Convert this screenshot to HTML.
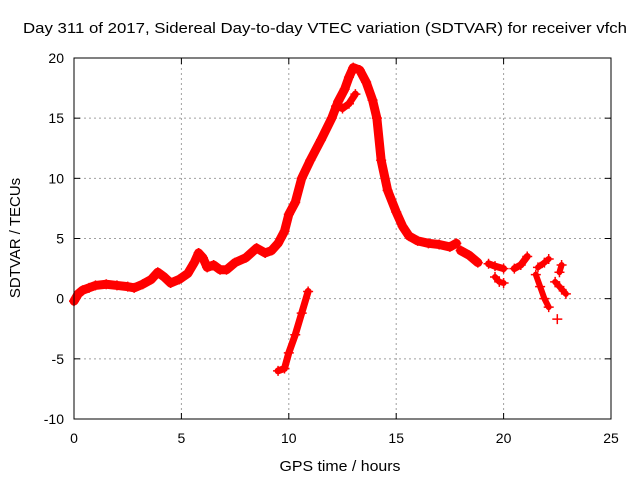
<!DOCTYPE html>
<html><head><meta charset="utf-8"><style>
body{margin:0;background:#fff}
svg{display:block;font-family:"Liberation Sans",sans-serif}
</style></head><body>
<svg id="chart" width="640" height="480">
<text x="325" y="33" font-size="15" text-anchor="middle" textLength="604" lengthAdjust="spacingAndGlyphs">Day 311 of 2017, Sidereal Day-to-day VTEC variation (SDTVAR) for receiver vfch</text>
<text x="340" y="471" font-size="15" text-anchor="middle" textLength="121" lengthAdjust="spacingAndGlyphs">GPS time / hours</text>
<text transform="translate(20,238) rotate(-90)" font-size="15" text-anchor="middle">SDTVAR / TECUs</text>
<g id="grid"></g><g id="ticks"></g><g id="marks"></g>
<rect x="74" y="58" width="537" height="361" fill="none" stroke="#000"/>
</svg>
<script>
const xTicks=[0,5,10,15,20,25];
const yTicks=[-10,-5,0,5,10,15,20];
const mainT=[0,0.2,0.4,0.7,1,1.5,2,2.5,2.8,3.2,3.6,3.9,4.2,4.5,4.9,5.3,5.6,5.8,6.0,6.2,6.5,6.8,7.1,7.5,8,8.5,8.9,9.2,9.5,9.8,10,10.3,10.6,11,11.5,12,12.3,12.6,12.8,13,13.3,13.6,13.9,14.1,14.3,14.6,15,15.3,15.6,16,16.5,17,17.5,17.8];
const mainV=[-0.2,0.4,0.7,0.9,1.1,1.2,1.1,1.0,0.9,1.2,1.6,2.2,1.8,1.3,1.6,2.1,3.0,3.8,3.4,2.6,2.8,2.4,2.4,3.0,3.4,4.2,3.8,4.0,4.6,5.6,7.0,8.0,10.0,11.5,13.2,15.0,16.4,17.4,18.4,19.2,19.0,18.0,16.5,15.0,11.5,9.0,7.2,6.0,5.2,4.8,4.6,4.5,4.3,4.6];
const lowT=[9.5,9.8,10.0,10.3,10.6,10.9];
const lowV=[-6.0,-5.8,-4.5,-3.0,-1.2,0.6];
const branchT=[12.2,12.5,12.8,13.1];
const branchV=[16.0,15.8,16.2,17.0];
const r1T=[18.0,18.4,18.8];
const r1V=[4.0,3.6,3.0];
const r2T=[19.3,19.6,20.0];
const r2V=[2.9,2.7,2.5];
const r3T=[19.6,19.8,20.0];
const r3V=[1.8,1.4,1.3];
const r4T=[20.5,20.8,21.1];
const r4V=[2.5,2.8,3.5];
const r5T=[21.5,21.7,21.9,22.1];
const r5V=[2.0,1.0,0.0,-0.7];
const r6T=[21.6,21.9,22.1];
const r6V=[2.6,3.0,3.3];
const r7T=[22.6,22.7];
const r7V=[2.2,2.8];
const r8T=[22.4,22.6,22.9];
const r8V=[1.4,1.0,0.4];
const r9T=[22.5];
const r9V=[-1.7];
const X=t=>74+t*537/25, Y=v=>58+(20-v)*361/30;
const NS="http://www.w3.org/2000/svg";
const mk=(tag,a,p)=>{const e=document.createElementNS(NS,tag);for(const k in a)e.setAttribute(k,a[k]);p.appendChild(e);return e;};
const grid=document.getElementById('grid'),ticks=document.getElementById('ticks'),marks=document.getElementById('marks');
xTicks.forEach(t=>{
 if(t>0&&t<25){const g=mk('line',{x1:X(t),x2:X(t),y1:58,y2:419,stroke:'#a0a0a0','stroke-dasharray':'2,3'},grid);
 
 }
 mk('line',{x1:X(t),x2:X(t),y1:419,y2:413,stroke:'#000'},ticks);
 mk('line',{x1:X(t),x2:X(t),y1:58,y2:64,stroke:'#000'},ticks);
 const l=mk('text',{x:X(t),y:443,'font-size':14,'text-anchor':'middle'},ticks);l.textContent=t;
 
 
});
yTicks.forEach(v=>{
 if(v>-10&&v<20){const g=mk('line',{x1:74,x2:611,y1:Y(v),y2:Y(v),stroke:'#a0a0a0','stroke-dasharray':'2,3'},grid);
 
 }
 mk('line',{x1:74,x2:80,y1:Y(v),y2:Y(v),stroke:'#000'},ticks);
 mk('line',{x1:605,x2:611,y1:Y(v),y2:Y(v),stroke:'#000'},ticks);
 const l=mk('text',{x:64,y:Y(v)+5,'font-size':14,'text-anchor':'end'},ticks);l.textContent=v;
 
 
});
function seg(T,V,w){
 const g=mk('g',{},marks);
 
 
 if(T.length>1)mk('polyline',{points:T.map((t,i)=>X(t)+','+Y(V[i])).join(' '),fill:'none',stroke:'#f00','stroke-width':w,'stroke-linejoin':'round','stroke-linecap':'round'},g);
 T.forEach((t,i)=>{const x=X(t),y=Y(V[i]);
  mk('path',{d:`M${x-5},${y}h10M${x},${y-5}v10`,stroke:'#f00','stroke-width':1.5},g);});
}
seg(mainT,mainV,9);seg(lowT,lowV,7);seg(branchT,branchV,7);
seg(r1T,r1V,9);seg(r2T,r2V,7);seg(r3T,r3V,6);seg(r4T,r4V,7);seg(r5T,r5V,6);seg(r6T,r6V,6);seg(r7T,r7V,6);seg(r8T,r8V,6);seg(r9T,r9V,6);
</script>
</body></html>
